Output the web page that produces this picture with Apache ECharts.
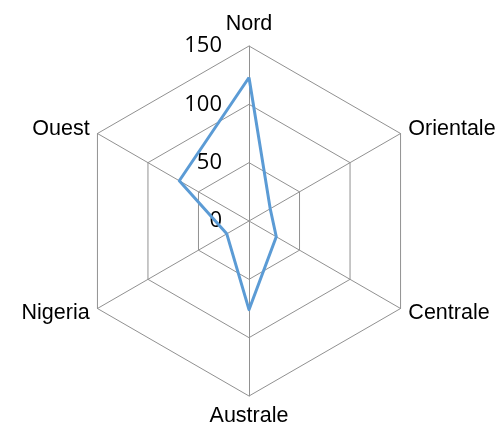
<!DOCTYPE html>
<html>
<head>
<meta charset="utf-8">
<script src="https://cdn.jsdelivr.net/npm/echarts@6/dist/echarts.min.js"></script>
<style>
  html, body { margin: 0; padding: 0; background: #fff; }
  #chart { width: 498px; height: 431px; }
</style>
</head>
<body>
<div id="chart"></div>
<script>
// Regions, listed counter-clockwise from the top (the radar's own order)
const regions = ['Nord', 'Ouest', 'Nigeria', 'Australe', 'Centrale', 'Orientale'];
const values = [123, 69, 22, 76, 27, 21];
const axisMax = 150;
const ticks = [0, 50, 100, 150];

const chart = echarts.init(document.getElementById('chart'), null, { renderer: 'canvas' });

const indicator = regions.map((name, i) => {
  const ind = { name: name, min: 0, max: axisMax };
  if (i === 0) {
    // value labels only along the top (Nord) spoke
    ind.axisLabel = {
      show: true,
      showMinLabel: true,
      showMaxLabel: true,
      color: '#000',
      fontFamily: 'Open Sans',
      fontSize: 22,
      margin: 27,
      align: 'right',
      verticalAlign: 'middle',
      padding: [3, 0, 0, 0],
      formatter: v => (ticks.indexOf(v) >= 0 ? String(v) : '')
    };
  }
  return ind;
});

chart.setOption({
  backgroundColor: '#fff',
  animation: false,
  radar: {
    center: [249, 221],
    radius: 175,
    shape: 'polygon',
    splitNumber: ticks.length - 1,
    indicator: indicator,
    nameGap: 9,
    axisName: {
      color: '#000',
      fontFamily: 'Liberation Sans',
      fontSize: 21.5
    },
    axisLine: { lineStyle: { color: '#919191', width: 1 } },
    splitLine: { lineStyle: { color: '#919191', width: 1 } },
    splitArea: { show: false },
    axisTick: { show: false },
    axisLabel: { show: false }
  },
  series: [{
    type: 'radar',
    symbol: 'none',
    lineStyle: { color: '#5b9bd5', width: 3 },
    data: [{ value: values }]
  }]
});
</script>
</body>
</html>
